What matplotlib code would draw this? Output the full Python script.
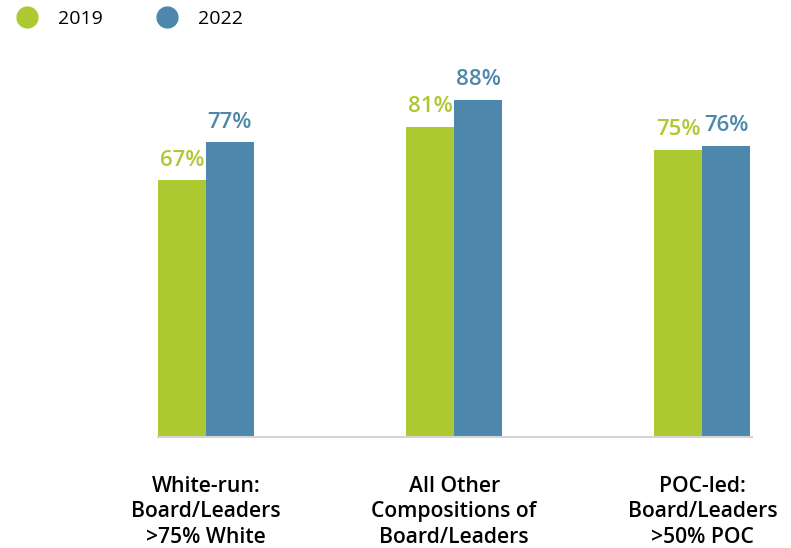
import numpy as np
import matplotlib.pyplot as plt
from matplotlib.lines import Line2D

categories = ["White-run:\nBoard/Leaders\n>75% White",
              "All Other\nCompositions of\nBoard/Leaders",
              "POC-led:\nBoard/Leaders\n>50% POC"]
vals_2019 = [67, 81, 75]
vals_2022 = [77, 88, 76]
series = ["2019", "2022"]

green = "#adc932"
blue = "#4e87ac"

plt.rcParams['font.family'] = ['Open Sans', 'DejaVu Sans']

fig = plt.figure(figsize=(7.91, 5.48), dpi=100)
ax = fig.add_axes([158/791, 111/548, 594/791, 383/548])

x = np.arange(len(categories))
w = 0.193
b1 = ax.bar(x - w/2, vals_2019, w, color=green)
b2 = ax.bar(x + w/2, vals_2022, w, color=blue)

for bars, vals, c in [(b1, vals_2019, green), (b2, vals_2022, blue)]:
    for r, v in zip(bars, vals):
        ax.text(r.get_x() + r.get_width()/2, v + 2.5, f"{v}%", ha="center", va="bottom",
                fontsize=16, fontweight="semibold", color=c)

ax.set_xlim(-0.193, 2.2)
ax.set_ylim(0, 100)
ax.set_yticks([])
ax.set_xticks(x)
ax.set_xticklabels(categories, fontsize=15.2, fontweight="semibold", linespacing=1.27)
ax.tick_params(axis="x", length=0, pad=28)
for s in ["top", "right", "left"]:
    ax.spines[s].set_visible(False)
ax.spines["bottom"].set_color("#d5d5d5")
ax.spines["bottom"].set_linewidth(1.5)

handles = [Line2D([], [], marker="o", linestyle="", markersize=15, color=green),
           Line2D([], [], marker="o", linestyle="", markersize=15, color=blue)]
fig.legend(handles, series, loc="upper left", bbox_to_anchor=(-0.013, 1.014), ncol=2,
           frameon=False, fontsize=14, handletextpad=0.6, columnspacing=2.33)

fig.savefig("out.png", dpi=100)
